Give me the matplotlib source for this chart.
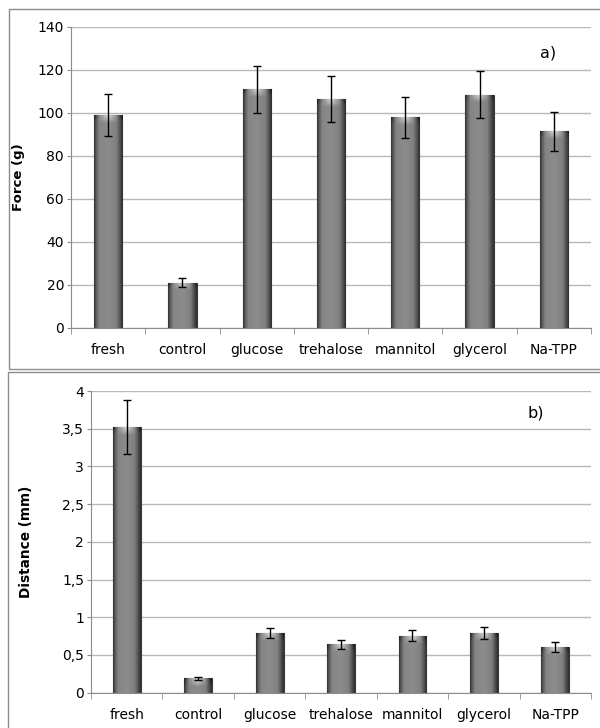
import numpy as np
import matplotlib
matplotlib.use("Agg")
import matplotlib.pyplot as plt
from matplotlib.patches import Rectangle

plt.rcParams['font.family'] = ['DejaVu Sans']

# treatments and measured values (mean and error)
treatments = ["fresh", "control", "glucose", "trehalose", "mannitol", "glycerol", "Na-TPP"]

force = [99, 21, 111, 106.5, 98, 108.5, 91.5]
force_err = [9.7, 2, 11, 10.5, 9.5, 11, 9]

distance = [3.52, 0.19, 0.79, 0.64, 0.755, 0.79, 0.605]
distance_err = [0.36, 0.02, 0.07, 0.065, 0.07, 0.08, 0.065]

force_ticks = [0, 20, 40, 60, 80, 100, 120, 140]
distance_ticks = [0, 0.5, 1, 1.5, 2, 2.5, 3, 3.5, 4]
distance_ticklabels = ["0", "0,5", "1", "1,5", "2", "2,5", "3", "3,5", "4"]


def shade_bars(ax, bars):
    # cylinder-like shading clipped to each bar, lighter bevel at the top
    fig = ax.figure
    fig.canvas.draw()
    for b in bars:
        x, w, h = b.get_x(), b.get_width(), b.get_height()
        p0 = ax.transData.transform((x, 0))
        p1 = ax.transData.transform((x + w, h))
        ny = max(int(abs(p1[1] - p0[1])) * 2, 4)
        nx = 60
        u = np.linspace(0, 1, nx)
        prof = np.interp(u, [0, 0.07, 0.18, 0.5, 0.78, 0.92, 1],
                         [0.2, 0.36, 0.52, 0.55, 0.5, 0.3, 0.18])
        img = np.tile(prof, (ny, 1))
        bev = min(14, ny // 2)
        for r in range(bev):
            t = r / bev
            mid = np.clip(1 - np.abs(u - 0.5) * 2.2, 0, 1)
            img[r] = img[r] + 0.3 * (1 - t) ** 0.7 * mid - 0.1 * (1 - t) * (1 - mid)
        im = ax.imshow(np.clip(img, 0, 1), cmap="gray", vmin=0, vmax=1, aspect="auto",
                       extent=[x, x + w, 0, h], origin="upper",
                       interpolation="bilinear", zorder=2)
        im.set_clip_path(b)


def style_axes(ax, ylim, yticks):
    ax.set_xlim(-0.5, len(treatments) - 0.5)
    ax.set_ylim(*ylim)
    ax.set_yticks(yticks)
    ax.grid(axis="y", color="#b8b8b8", linewidth=1)
    ax.set_axisbelow(True)
    for s in ["top", "right"]:
        ax.spines[s].set_visible(False)
    ax.spines["left"].set_color("#8c8c8c")
    ax.spines["bottom"].set_color("#8c8c8c")
    ax.set_xticks(range(len(treatments)))
    ax.set_xticklabels(treatments)
    ax.set_xticks(np.arange(-0.5, len(treatments)), minor=True)
    ax.tick_params(axis="x", which="major", length=0, pad=11, labelsize=10)
    ax.tick_params(axis="x", which="minor", length=4, color="#8c8c8c", direction="out")
    ax.tick_params(axis="y", length=3, color="#8c8c8c", pad=2, labelsize=10)


fig = plt.figure(figsize=(6, 7.28), dpi=100)

# panel frames
fig.patches.append(Rectangle((9 / 600, 1 - 369 / 728), 1, 360 / 728, transform=fig.transFigure,
                             fill=False, edgecolor="#8c8c8c", linewidth=1))
fig.patches.append(Rectangle((8 / 600, -0.05), 1, 1 - 372 / 728 + 0.05, transform=fig.transFigure,
                             fill=False, edgecolor="#8c8c8c", linewidth=1))

ax1 = fig.add_axes([71 / 600, 1 - 327.7 / 728, 520 / 600, 300.7 / 728])
ax2 = fig.add_axes([91 / 600, 1 - 692.7 / 728, 500 / 600, 301.7 / 728])

x = np.arange(len(treatments))

bars1 = ax1.bar(x, force, width=0.38, color="#888888", edgecolor="#3a3a3a", linewidth=0.8, zorder=2)
ax1.errorbar(x, force, yerr=force_err, fmt="none", ecolor="black", elinewidth=1, capsize=3, zorder=4)
style_axes(ax1, (0, 140), force_ticks)
ax1.set_ylabel("Force (g)", fontsize=9.5, fontweight="bold")
ax1.yaxis.set_label_coords(-0.088, 0.5)
ax1.text(0.917, 0.913, "a)", transform=ax1.transAxes, fontsize=11.5, ha="center", va="center")

bars2 = ax2.bar(x, distance, width=0.39, color="#888888", edgecolor="#3a3a3a", linewidth=0.8, zorder=2)
ax2.errorbar(x, distance, yerr=distance_err, fmt="none", ecolor="black", elinewidth=1, capsize=3, zorder=4)
style_axes(ax2, (0, 4), distance_ticks)
ax2.set_yticklabels(distance_ticklabels)
ax2.set_ylabel("Distance (mm)", fontsize=9.8, fontweight="bold")
ax2.yaxis.set_label_coords(-0.116, 0.5)
ax2.text(0.89, 0.928, "b)", transform=ax2.transAxes, fontsize=11.5, ha="center", va="center")

shade_bars(ax1, bars1)
shade_bars(ax2, bars2)
ax1.set_xlim(-0.5, len(treatments) - 0.5)
ax1.set_ylim(0, 140)
ax2.set_xlim(-0.5, len(treatments) - 0.5)
ax2.set_ylim(0, 4)

fig.savefig("out.png", dpi=100)
